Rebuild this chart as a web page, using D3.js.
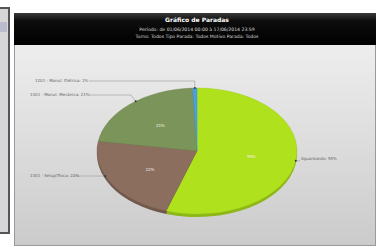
<!DOCTYPE html>
<html>
<head>
<meta charset="utf-8">
<script src="https://cdn.jsdelivr.net/npm/d3@7"></script>
<style>
  body { margin: 0; background: #fff; }
  svg { display: block; font-family: "DejaVu Sans", sans-serif; }
</style>
</head>
<body>
<div id="chart"></div>
<script>
// dados do gráfico
const categorias = ["Aguardando", "1301 - Setup/Troca", "1401 - Manut. Mecânica", "1201 - Manut. Elétrica"];
const valores = [55, 22.5, 21.8, 0.7];
const rotulosPct = ["55%", "22%", "21%", "1%"];
const cores = ["#afe11c", "#8b6e5e", "#7b9459", "#4aa0dc"];
const titulo = "Gráfico de Paradas";
const subtitulos = [
  "Período: de 01/06/2014 00:00 à 17/06/2014 23:59",
  "Turno: Todos  Tipo Parada: Todos  Motivo Parada: Todos"
];

const W = 378, H = 248;
const svg = d3.select("#chart").append("svg")
  .attr("width", W).attr("height", H);

const defs = svg.append("defs");
const gBody = defs.append("linearGradient").attr("id", "body").attr("x1", 0).attr("y1", 0).attr("x2", 0).attr("y2", 1);
gBody.append("stop").attr("offset", "0%").attr("stop-color", "#f3f3f3");
gBody.append("stop").attr("offset", "100%").attr("stop-color", "#cbcbcb");
const gHead = defs.append("linearGradient").attr("id", "head").attr("x1", 0).attr("y1", 0).attr("x2", 0).attr("y2", 1);
gHead.append("stop").attr("offset", "0%").attr("stop-color", "#3a3a3a");
gHead.append("stop").attr("offset", "25%").attr("stop-color", "#0c0c0c");
gHead.append("stop").attr("offset", "100%").attr("stop-color", "#000");

// painel da esquerda (cortado)
svg.append("rect").attr("x", -2).attr("y", 8).attr("width", 11).attr("height", 225)
  .attr("fill", "#d6d6d8").attr("stroke", "#555").attr("stroke-width", 2);
svg.append("rect").attr("x", 0).attr("y", 22).attr("width", 7).attr("height", 10).attr("fill", "#b9bccc");

// painel principal
svg.append("rect").attr("x", 14.5).attr("y", 13.5).attr("width", 361).attr("height", 232)
  .attr("fill", "url(#body)").attr("stroke", "#9a9a9a");
svg.append("rect").attr("x", 14).attr("y", 13).attr("width", 362).attr("height", 32)
  .attr("fill", "url(#head)");

svg.append("text").attr("x", 197).attr("y", 22).attr("text-anchor", "middle")
  .attr("fill", "#fff").attr("font-size", 6).attr("font-weight", "bold").text(titulo);
svg.selectAll(".sub").data(subtitulos).enter().append("text")
  .attr("x", 197).attr("y", (d, i) => 31 + i * 6.5).attr("text-anchor", "middle")
  .attr("fill", "#ddd").attr("font-size", 4.6).text(d => d);

// pizza 3D
const cx = 197, cy = 151, rx = 100, ry = 63, depth = 3;
const dados = categorias.map((c, i) => ({ cat: c, v: valores[i], pct: rotulosPct[i], cor: cores[i] }));
const pie = d3.pie().sort(null).value(d => d.v);
const arcs = pie(dados);
const arc = d3.arc().innerRadius(0).outerRadius(rx);

const gPie = svg.append("g");
// lateral
gPie.append("g").attr("transform", `translate(${cx},${cy + depth}) scale(1,${ry / rx})`)
  .selectAll("path").data(arcs).enter().append("path")
  .attr("d", arc).attr("fill", d => d3.color(d.data.cor).darker(0.6));
gPie.append("g").attr("transform", `translate(${cx},${cy}) scale(1,${ry / rx})`)
  .selectAll("path").data(arcs).enter().append("path")
  .attr("d", arc).attr("fill", d => d.data.cor)
  .attr("stroke", d => d3.color(d.data.cor).darker(0.3)).attr("stroke-width", 0.5);

// rótulos internos
const arcIn = d3.arc().innerRadius(rx * 0.55).outerRadius(rx * 0.55);
svg.selectAll(".pct").data(arcs.filter(d => d.data.v > 5)).enter().append("text")
  .attr("x", d => cx + arcIn.centroid(d)[0])
  .attr("y", d => cy + arcIn.centroid(d)[1] * ry / rx + 1.5)
  .attr("text-anchor", "middle").attr("fill", "#f4f4ee").attr("font-size", 4)
  .text(d => d.data.pct);

// rótulos externos com linhas guia
const ponto = (d, f) => {
  const a = d.startAngle + (d.endAngle - d.startAngle) * f;
  return [cx + Math.sin(a) * rx, cy - Math.cos(a) * ry];
};
const guias = [
  { i: 0, f: 0.5, tx: 301, ty: 159, path: (p) => [p, [300, p[1]]] },
  { i: 1, f: 0.6, tx: 30, ty: 176, path: (p) => [[74, p[1]], p] },
  { i: 2, f: 0.55, tx: 30, ty: 95, path: (p) => [[89, 95], [131, 95], p] },
  { i: 3, f: 0.5, tx: 35, ty: 81, path: (p) => [[89, 81], [p[0], 81], p] }
];
const linha = d3.line();
guias.forEach(g => {
  const d = arcs[g.i];
  const p = ponto(d, g.f);
  svg.append("path").attr("d", linha(g.path(p))).attr("fill", "none")
    .attr("stroke", "#999").attr("stroke-width", 0.6);
  svg.append("circle").attr("cx", p[0]).attr("cy", p[1]).attr("r", 1).attr("fill", "#333");
  svg.append("text").attr("x", g.tx).attr("y", g.ty + 1.4)
    .attr("fill", "#666").attr("font-size", 4).text(d.data.cat + ": " + d.data.pct);
});
</script>
</body>
</html>
